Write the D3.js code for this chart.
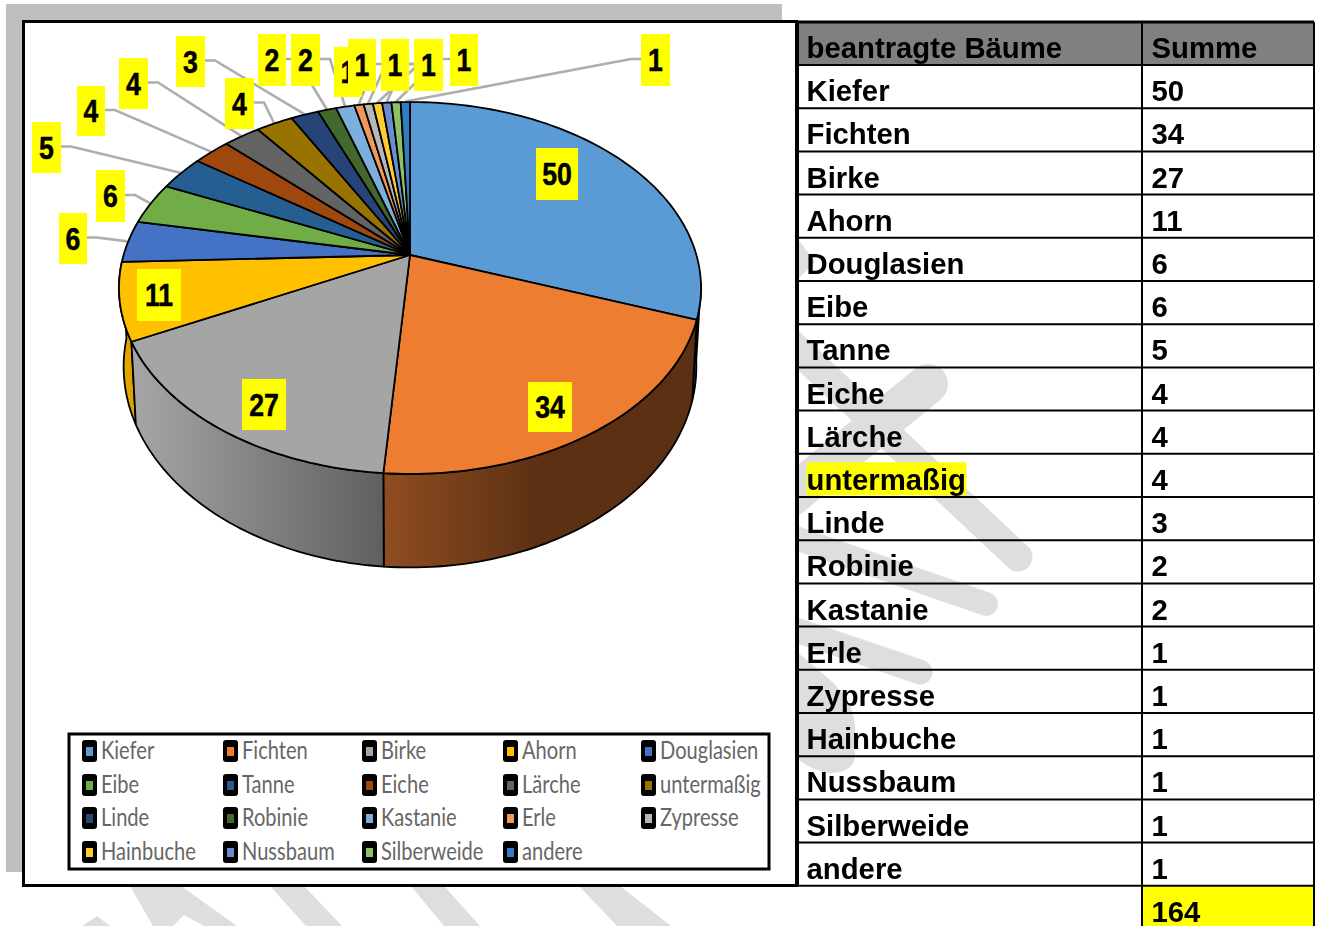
<!DOCTYPE html>
<html>
<head>
<meta charset="utf-8">
<script src="https://cdn.jsdelivr.net/npm/d3@7"></script>
<style>
  html, body { margin: 0; padding: 0; background: #fff; overflow: hidden; }
  svg { display: block; filter: blur(0.45px); }
</style>
</head>
<body>
<div id="chart"></div>
<script>
const categories = ["Kiefer", "Fichten", "Birke", "Ahorn", "Douglasien", "Eibe", "Tanne", "Eiche", "Lärche",
  "untermaßig", "Linde", "Robinie", "Kastanie", "Erle", "Zypresse", "Hainbuche", "Nussbaum", "Silberweide", "andere"];
const values = [50, 34, 27, 11, 6, 6, 5, 4, 4, 4, 3, 2, 2, 1, 1, 1, 1, 1, 1];
const total = 164;
const colors = ["#5b9bd5", "#ed7d31", "#a5a5a5", "#ffc000", "#4472c4", "#70ad47", "#255e91", "#9e480e", "#636363",
  "#997300", "#264478", "#43682b", "#7cafdd", "#f1975a", "#b7b7b7", "#ffcd33", "#698ed0", "#8cc168", "#327dc2"];
const tableHead = ["beantragte Bäume", "Summe"];

// label boxes were placed by hand in the original: [left, top, right, bottom]
const labelBoxes = [[536, 148, 578, 200], [528, 382, 572, 432], [242, 379, 286, 430], [137, 269, 181, 321],
  [59, 213, 87, 264], [96, 170, 125, 222], [32, 122, 61, 173], [77, 86, 105, 136], [119, 58, 148, 109],
  [225, 78, 254, 129], [176, 36, 205, 87], [258, 34, 286, 86], [291, 34, 320, 86], [334, 47, 362, 97],
  [348, 39, 376, 91], [381, 39, 409, 91], [414, 39, 443, 91], [450, 34, 478, 86], [641, 34, 670, 86]];
const leaderSide = [0, 0, 0, 0, 1, 1, 1, 1, 1, 1, 1, 1, 1, 1, 1, 1, -1, -1, -1];

// side wall shading: [slice index, first colour, last colour, gradient x1, gradient x2]
const sideShades = [[0, "#2f4f6c", "#2f4f6c", 600, 700], [3, "#e3aa00", "#d9a000", 120, 140],
  [1, "#8f4d20", "#5c3013", 384, 540], [2, "#a5a5a5", "#5f5f5f", 135, 384]];

// watermark behind everything
const washStrokes = [
  {d: "M785,338L1018,557", w: 29},
  {d: "M928,384L790,497", w: 40},
  {d: "M790,536L986,604", w: 24},
  {d: "M790,628L920,672", w: 25}
];
const washShapes = [
  "M797,238L815,262L797,280Z",
  "M797,652C830,680 855,695 855,730L855,754Q855,773 829,773Q810,770 797,758Z",
  "M82,926L97,916L110,926Z",
  "M130,886L181,886L237,926L204,926L184,915L173,926L153,926Z",
  "M270,886L304,886L342,926L306,926Z",
  "M411,886L444,886L480,926L444,926Z",
  "M579,886L620,886L671,926L617,926Z"
];

const width = 1321, height = 926;
const svg = d3.select("#chart").append("svg").attr("width", width).attr("height", height);
const defs = svg.append("defs");

const wash = svg.append("g").attr("fill", "#dedede");
wash.selectAll("path.s").data(washStrokes).join("path").attr("class", "s")
  .attr("d", d => d.d).attr("fill", "none").attr("stroke", "#dedede")
  .attr("stroke-width", d => d.w).attr("stroke-linecap", "round");
wash.selectAll("path.f").data(washShapes).join("path").attr("class", "f").attr("d", d => d);

// gray shadow sheet and framed chart area
svg.append("rect").attr("x", 6).attr("y", 4).attr("width", 776).attr("height", 868).attr("fill", "#bfbfbf");
svg.append("rect").attr("x", 23.5).attr("y", 21.5).attr("width", 773).attr("height", 864)
  .attr("fill", "#fff").attr("stroke", "#000").attr("stroke-width", 3);

// perspective disc: angle clockwise from the top, apex is off the ellipse centre
const cx = 410, cy = 255, persp = 0.1774, rx = 286.4, ry = 180.1;
function project(a, r, level) {
  const u = r * Math.sin(a), v = r * Math.cos(a), den = 1 + persp * v;
  if (level === "bottom") return [cx + 0.984 * rx * u / den, 331 - 1.08 * ry * v / den];
  return [cx + rx * u / den, cy - ry * v / den];
}
function arcPoints(a0, a1, level) {
  const n = Math.max(2, Math.ceil((a1 - a0) / 0.02));
  return d3.range(n + 1).map(i => project(a0 + (a1 - a0) * i / n, 1, level));
}
const closed = d3.line().curve(d3.curveLinearClosed);
const pieData = d3.pie().sort(null)(values);

// side walls
const sides = svg.append("g");
sideShades.forEach(([i, c0, c1, x1, x2]) => {
  const id = "side" + i;
  const g = defs.append("linearGradient").attr("id", id).attr("gradientUnits", "userSpaceOnUse")
    .attr("x1", x1).attr("x2", x2).attr("y1", 0).attr("y2", 0);
  g.append("stop").attr("offset", 0).attr("stop-color", c0);
  g.append("stop").attr("offset", 1).attr("stop-color", c1);
  const s = pieData[i];
  const a0 = Math.max(s.startAngle, 1.72), a1 = Math.min(s.endAngle, 4.7);
  const pts = arcPoints(a0, a1, "top").concat(arcPoints(a0, a1, "bottom").reverse());
  sides.append("path").attr("d", closed(pts)).attr("fill", "url(#" + id + ")")
    .attr("stroke", "#000").attr("stroke-width", 1.8).attr("stroke-linejoin", "round");
});

// leader lines sit under the pie and label boxes
const leader = d3.line();
svg.append("g").selectAll("path").data(pieData.filter((d, i) => leaderSide[i] !== 0)).join("path")
  .attr("fill", "none").attr("stroke", "#aeaeae").attr("stroke-width", 2.6)
  .attr("d", d => {
    const b = labelBoxes[d.index], side = leaderSide[d.index];
    const x0 = side > 0 ? b[2] : b[0], y0 = (b[1] + b[3]) / 2 - 1;
    const end = project((d.startAngle + d.endAngle) / 2, 1.004, "top");
    return leader([[x0, y0], [x0 + side * 10, y0], end]);
  });

// pie top
svg.append("g").selectAll("path").data(pieData).join("path")
  .attr("d", d => closed([[cx, cy]].concat(arcPoints(d.startAngle, d.endAngle, "top"))))
  .attr("fill", (d, i) => colors[i])
  .attr("stroke", "#000").attr("stroke-width", 1.8).attr("stroke-linejoin", "round");

// data labels
const labels = svg.append("g").selectAll("g").data(values).join("g");
labels.append("rect")
  .attr("x", (d, i) => labelBoxes[i][0]).attr("y", (d, i) => labelBoxes[i][1])
  .attr("width", (d, i) => labelBoxes[i][2] - labelBoxes[i][0])
  .attr("height", (d, i) => labelBoxes[i][3] - labelBoxes[i][1])
  .attr("fill", "#ffff00");
labels.append("text")
  .attr("transform", (d, i) => {
    const b = labelBoxes[i];
    return "translate(" + (b[0] + b[2]) / 2 + "," + ((b[1] + b[3]) / 2 + 11) + ") scale(0.86,1)";
  })
  .attr("text-anchor", "middle")
  .attr("font-family", "'Liberation Sans'").attr("font-weight", 700).attr("font-size", 31)
  .attr("stroke", "#000").attr("stroke-width", 0.5)
  .text(d => d);

// legend
svg.append("rect").attr("x", 69).attr("y", 734).attr("width", 700).attr("height", 135)
  .attr("fill", "#fff").attr("stroke", "#000").attr("stroke-width", 3);
const legendX = [82, 223, 362, 503, 641];
const legendY = [751, 785, 818, 852];
const legend = svg.append("g").selectAll("g").data(categories).join("g")
  .attr("transform", (d, i) => "translate(" + legendX[i % 5] + "," + legendY[Math.floor(i / 5)] + ")");
legend.append("rect").attr("x", 0).attr("y", -11).attr("width", 15).attr("height", 22).attr("rx", 3).attr("fill", "#000");
legend.append("rect").attr("x", 4).attr("y", -4).attr("width", 7).attr("height", 9).attr("fill", (d, i) => colors[i]);
legend.append("text")
  .attr("transform", "translate(19,7.5) scale(0.82,1)")
  .attr("font-family", "Lato").attr("font-size", 24.5).attr("fill", "#666")
  .text(d => d);

// table, rows on a linear scale
const table = svg.append("g");
const rowY = d3.scaleLinear().domain([0, 1]).range([65, 108.2]);
const colX = [798, 1142, 1314];
const fontTable = {family: "'Liberation Sans'", size: 29.3};

table.append("rect").attr("x", colX[0]).attr("y", 22).attr("width", colX[2] - colX[0]).attr("height", 43).attr("fill", "#808080");
table.append("rect").attr("x", colX[1]).attr("y", rowY(19)).attr("width", colX[2] - colX[1]).attr("height", 41).attr("fill", "#ffff00");
table.append("rect").attr("x", 806.5).attr("y", rowY(9) + 8.5).attr("width", 160).attr("height", 33).attr("fill", "#ffff00");

table.selectAll("line.h").data(d3.range(20)).join("line").attr("class", "h")
  .attr("x1", colX[0]).attr("x2", colX[2]).attr("y1", d => rowY(d)).attr("y2", d => rowY(d))
  .attr("stroke", "#000").attr("stroke-width", 2);
table.append("line").attr("x1", colX[0]).attr("x2", colX[2]).attr("y1", 22).attr("y2", 22).attr("stroke", "#000").attr("stroke-width", 3);
[[colX[0], rowY(19)], [colX[1], height], [colX[2], height]].forEach(([x, y2]) => {
  table.append("line").attr("x1", x).attr("x2", x).attr("y1", 22).attr("y2", y2).attr("stroke", "#000").attr("stroke-width", 2);
});

function cell(x, y, txt) {
  table.append("text").attr("x", x).attr("y", y)
    .attr("font-family", fontTable.family).attr("font-weight", 700).attr("font-size", fontTable.size)
    .attr("fill", "#000").text(txt);
}
cell(806.5, 58, tableHead[0]);
cell(1151.5, 58, tableHead[1]);
categories.forEach((c, i) => {
  cell(806.5, rowY(i + 1) - 7, c);
  cell(1151.5, rowY(i + 1) - 7, values[i]);
});
cell(1151.5, rowY(20) - 7, total);
</script>
</body>
</html>
